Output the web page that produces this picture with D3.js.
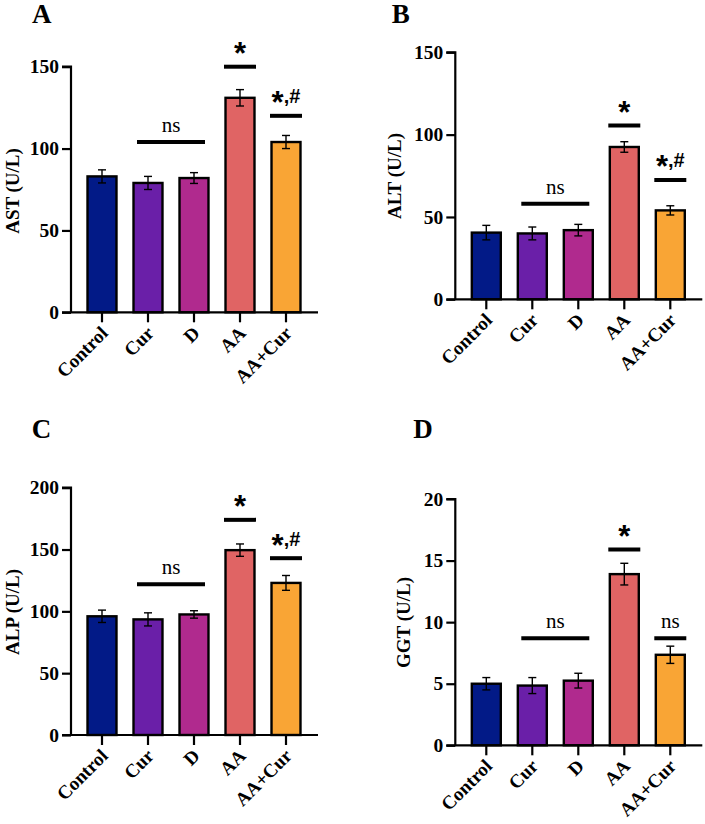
<!DOCTYPE html>
<html>
<head>
<meta charset="utf-8">
<script src="https://cdn.jsdelivr.net/npm/d3@7"></script>
<style>
  html, body { margin: 0; padding: 0; background: #ffffff; }
  svg { display: block; }
</style>
</head>
<body>
<svg id="chart" width="705" height="824"></svg>
<script>
// ---------------- DATA ----------------
const categories = ["Control", "Cur", "D", "AA", "AA+Cur"];
const barColors = ["#021a87", "#6a1fa8", "#b02a8e", "#e06464", "#f9a535"];

const astMean = [83, 79, 82, 131, 104];
const astErr  = [4, 4, 3.3, 5, 4];
const altMean = [40.5, 40, 42, 92.5, 54];
const altErr  = [4.4, 3.9, 3.5, 3.2, 2.8];
const alpMean = [96, 93.5, 97.5, 149.5, 123];
const alpErr  = [5, 5.3, 3, 5, 6];
const ggtMean = [5.0, 4.85, 5.25, 13.9, 7.35];
const ggtErr  = [0.5, 0.65, 0.6, 0.88, 0.7];

const astTicks = [0, 50, 100, 150];
const altTicks = [0, 50, 100, 150];
const alpTicks = [0, 50, 100, 150, 200];
const ggtTicks = [0, 5, 10, 15, 20];

// significance annotations: [fromCategory, toCategory, y value, label]
const astSig = [["Cur", "D", 104, "ns"], ["AA", "AA", 150, "*"], ["AA+Cur", "AA+Cur", 120, "*,#"]];
const altSig = [["Cur", "D", 58, "ns"], ["AA", "AA", 105.5, "*"], ["AA+Cur", "AA+Cur", 72.5, "*,#"]];
const alpSig = [["Cur", "D", 122, "ns"], ["AA", "AA", 174, "*"], ["AA+Cur", "AA+Cur", 143, "*,#"]];
const ggtSig = [["Cur", "D", 8.7, "ns"], ["AA", "AA", 15.9, "*"], ["AA+Cur", "AA+Cur", 8.7, "ns"]];

// ---------------- LAYOUT ----------------
const panels = [
  { letter: "A", ylabel: "AST (U/L)", mean: astMean, err: astErr, ticks: astTicks, sig: astSig,
    max: 150, x0: 71, yTop: 66.7, yBot: 312.3, letterX: 32, letterY: 23, labX: 18.5, labY: 191 },
  { letter: "B", ylabel: "ALT (U/L)", mean: altMean, err: altErr, ticks: altTicks, sig: altSig,
    max: 150, x0: 455.3, yTop: 52.3, yBot: 299.3, letterX: 391.7, letterY: 23, labX: 401, labY: 176 },
  { letter: "C", ylabel: "ALP (U/L)", mean: alpMean, err: alpErr, ticks: alpTicks, sig: alpSig,
    max: 200, x0: 71, yTop: 487.7, yBot: 735, letterX: 31.7, letterY: 438, labX: 18.5, labY: 612 },
  { letter: "D", ylabel: "GGT (U/L)", mean: ggtMean, err: ggtErr, ticks: ggtTicks, sig: ggtSig,
    max: 20, x0: 455.3, yTop: 499, yBot: 745.3, letterX: 413.3, letterY: 438, labX: 410, labY: 622.5 }
];

const SERIF = "Liberation Serif, Times New Roman, serif";
const SANS = "Liberation Sans, Arial, sans-serif";

const svg = d3.select("#chart");

panels.forEach(p => {
  const g = svg.append("g");

  const x = d3.scaleBand()
    .domain(categories)
    .range([p.x0 + 8, p.x0 + 238])
    .paddingInner(0.37)
    .paddingOuter(0.185);

  const y = d3.scaleLinear().domain([0, p.max]).range([p.yBot, p.yTop]);

  // bars
  g.selectAll("rect.bar")
    .data(categories)
    .join("rect")
    .attr("class", "bar")
    .attr("x", d => x(d))
    .attr("width", x.bandwidth())
    .attr("y", (d, i) => y(p.mean[i]))
    .attr("height", (d, i) => y(0) - y(p.mean[i]))
    .attr("fill", (d, i) => barColors[i])
    .attr("stroke", "#000")
    .attr("stroke-width", 2.4);

  // error bars
  const eb = g.selectAll("g.err").data(categories).join("g").attr("class", "err")
    .attr("stroke", "#000").attr("stroke-width", 1.4);
  eb.append("line")
    .attr("x1", d => x(d) + x.bandwidth() / 2).attr("x2", d => x(d) + x.bandwidth() / 2)
    .attr("y1", (d, i) => y(p.mean[i] + p.err[i])).attr("y2", (d, i) => y(p.mean[i] - p.err[i]));
  eb.append("line")
    .attr("x1", d => x(d) + x.bandwidth() / 2 - 4).attr("x2", d => x(d) + x.bandwidth() / 2 + 4)
    .attr("y1", (d, i) => y(p.mean[i] + p.err[i])).attr("y2", (d, i) => y(p.mean[i] + p.err[i]));
  eb.append("line")
    .attr("x1", d => x(d) + x.bandwidth() / 2 - 4).attr("x2", d => x(d) + x.bandwidth() / 2 + 4)
    .attr("y1", (d, i) => y(p.mean[i] - p.err[i])).attr("y2", (d, i) => y(p.mean[i] - p.err[i]));

  // y axis
  const yAxis = g.append("g")
    .attr("transform", `translate(${p.x0},0)`)
    .call(d3.axisLeft(y).tickValues(p.ticks).tickSize(9).tickPadding(3).tickFormat(d3.format("d")));
  yAxis.attr("font-family", SERIF);
  yAxis.select(".domain").attr("stroke", "#000").attr("stroke-width", 2.2)
    .attr("d", `M-9,${p.yTop}H0V${p.yBot}`);
  yAxis.selectAll(".tick line").attr("stroke", "#000").attr("stroke-width", 2.2);
  yAxis.selectAll(".tick text")
    .style("font-family", SERIF).style("font-weight", "bold").style("font-size", "19.5px").attr("fill", "#000");

  // x axis
  const xAxis = g.append("g")
    .attr("transform", `translate(0,${p.yBot})`)
    .call(d3.axisBottom(x).tickSize(10).tickSizeOuter(0));
  xAxis.attr("font-family", SERIF);
  xAxis.select(".domain").attr("stroke", "#000").attr("stroke-width", 2.2)
    .attr("d", `M${p.x0 - 9},0H${p.x0 + 247}`);
  xAxis.selectAll(".tick line").attr("stroke", "#000").attr("stroke-width", 2.2);
  xAxis.selectAll(".tick text")
    .style("font-family", SERIF).style("font-weight", "bold").style("font-size", "19px").attr("fill", "#000")
    .attr("text-anchor", "end")
    .attr("x", 0).attr("y", 0).attr("dy", null)
    .attr("transform", "translate(7,22) rotate(-45)");

  // y label
  g.append("text")
    .attr("transform", `translate(${p.labX},${p.labY}) rotate(-90)`)
    .attr("text-anchor", "middle")
    .style("font-family", SERIF).style("font-weight", "bold").style("font-size", "19px")
    .text(p.ylabel);

  // panel letter
  g.append("text")
    .attr("x", p.letterX).attr("y", p.letterY)
    .style("font-family", SERIF).style("font-weight", "bold").style("font-size", "27px")
    .text(p.letter);

  // significance annotations
  p.sig.forEach(([a, b, v, label]) => {
    const single = a === b;
    const xa = x(a) + x.bandwidth() / 2 - (single ? 16 : 11);
    const xb = x(b) + x.bandwidth() / 2 + (single ? 16 : 11);
    const yy = y(v);
    g.append("line")
      .attr("x1", xa).attr("x2", xb).attr("y1", yy).attr("y2", yy)
      .attr("stroke", "#000").attr("stroke-width", 4);
    const cx = (xa + xb) / 2;
    if (label === "ns") {
      g.append("text")
        .attr("x", cx).attr("y", yy - 10)
        .attr("text-anchor", "middle")
        .style("font-family", SERIF).style("font-size", "21px")
        .text("ns");
    } else {
      const t = g.append("text")
        .attr("x", cx).attr("y", yy - 12.5)
        .attr("text-anchor", "middle")
        .style("font-family", SANS).style("font-weight", "bold").style("font-size", "20px");
      let shift = 0;
      Array.from(label).forEach(ch => {
        const target = ch === "*" ? 10 : 0;
        t.append("tspan")
          .attr("dy", target - shift)
          .style("font-size", ch === "*" ? "31px" : "20px")
          .text(ch);
        shift = target;
      });
    }
  });
});
</script>
</body>
</html>
